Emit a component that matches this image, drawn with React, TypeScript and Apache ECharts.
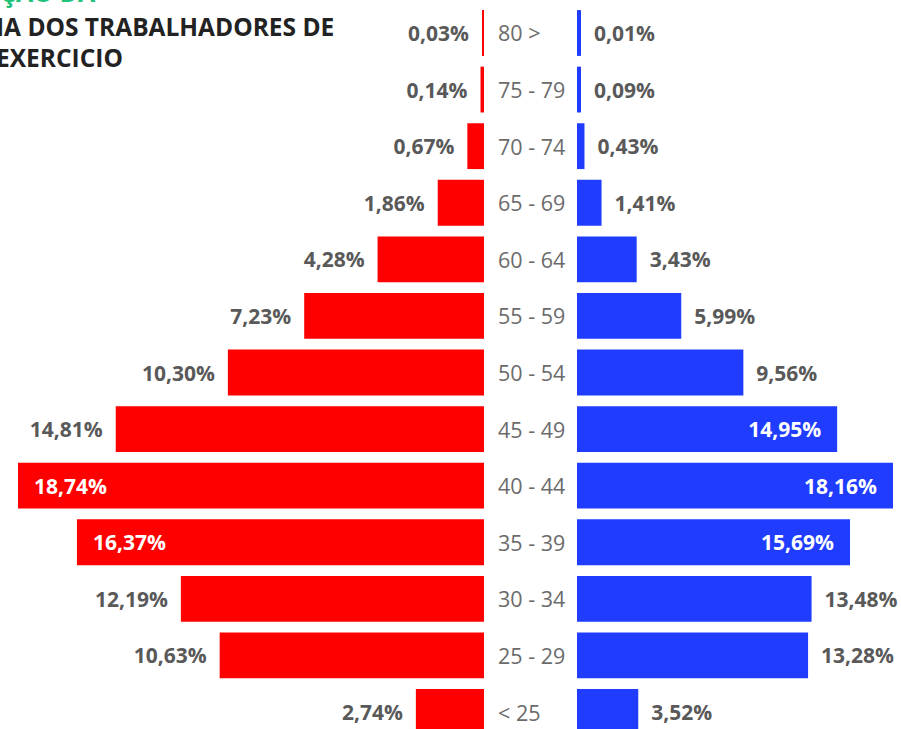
import React, { useEffect, useRef } from "react";
import * as echarts from "echarts";

const categories = ["80 >", "75 - 79", "70 - 74", "65 - 69", "60 - 64", "55 - 59", "50 - 54", "45 - 49", "40 - 44", "35 - 39", "30 - 34", "25 - 29", "< 25"];
const redValues = [0.03, 0.14, 0.67, 1.86, 4.28, 7.23, 10.30, 14.81, 18.74, 16.37, 12.19, 10.63, 2.74];
const blueValues = [0.01, 0.09, 0.43, 1.41, 3.43, 5.99, 9.56, 14.95, 18.16, 15.69, 13.48, 13.28, 3.52];
const redInside = [false, false, false, false, false, false, false, false, true, true, false, false, false];
const blueInside = [false, false, false, false, false, false, false, true, true, true, false, false, false];
const titleLines = ["ÇÃO DA", "IA DOS TRABALHADORES DE", "EXERCICIO"];

const RED = "#FF0000";
const BLUE = "#1F3CFF";
const FONT = "'Open Sans', 'DejaVu Sans', sans-serif";

const fmt = (v: number) => v.toFixed(2).replace(".", ",") + "%";

export default function App() {
  const ref = useRef<HTMLDivElement>(null);
  useEffect(() => {
    if (!ref.current) return;
    const chart = echarts.init(ref.current, undefined, { renderer: "svg" });
    const mkData = (vals: number[], inside: boolean[], side: "left" | "right") =>
      vals.map((v, i) => ({
        value: v,
        label: inside[i]
          ? {
              show: true,
              position: side === "left" ? "insideLeft" : "insideRight",
              distance: 16,
              color: "#ffffff",
            }
          : {
              show: true,
              position: side,
              distance: 13,
              color: "#595959",
            },
      }));
    const labelBase = {
      show: true,
      fontFamily: FONT,
      fontWeight: "bold" as const,
      fontSize: 21,
      formatter: (p: any) => fmt(p.value),
    };
    chart.setOption({
      animation: false,
      grid: [
        { left: 18, right: 417, top: 4.7, bottom: 0.7, containLabel: false },
        { left: 577, right: 8, top: 4.7, bottom: 0.7, containLabel: false },
      ],
      xAxis: [
        { type: "value", gridIndex: 0, inverse: true, min: 0, max: 18.74, show: false },
        { type: "value", gridIndex: 1, min: 0, max: 18.16, show: false },
      ],
      yAxis: [
        {
          type: "category",
          gridIndex: 0,
          data: categories,
          inverse: true,
          position: "right",
          axisLine: { show: false },
          axisTick: { show: false },
          axisLabel: {
            show: true,
            align: "left",
            margin: 14,
            color: "#6b6b6b",
            fontFamily: FONT,
            fontSize: 21.5,
          },
        },
        {
          type: "category",
          gridIndex: 1,
          data: categories,
          inverse: true,
          show: false,
        },
      ],
      series: [
        {
          type: "bar",
          xAxisIndex: 0,
          yAxisIndex: 0,
          data: mkData(redValues, redInside, "left"),
          barCategoryGap: "19%",
          barMinHeight: 2,
          itemStyle: { color: RED },
          label: labelBase,
        },
        {
          type: "bar",
          xAxisIndex: 1,
          yAxisIndex: 1,
          data: mkData(blueValues, blueInside, "right"),
          barCategoryGap: "19%",
          barMinHeight: 4,
          itemStyle: { color: BLUE },
          label: labelBase,
        },
      ],
      graphic: [
        {
          type: "text",
          x: 0,
          y: -8,
          style: {
            text: titleLines[0],
            fill: "#1fc27a",
            font: `bold 25px ${FONT}`,
            verticalAlign: "middle",
          },
        },
        {
          type: "text",
          x: -4,
          y: 26,
          style: {
            text: titleLines[1],
            fill: "#222222",
            font: `bold 24.5px ${FONT}`,
            verticalAlign: "middle",
          },
        },
        {
          type: "text",
          x: -4,
          y: 57,
          style: {
            text: titleLines[2],
            fill: "#222222",
            font: `bold 24.5px ${FONT}`,
            verticalAlign: "middle",
          },
        },
      ],
    });
    return () => chart.dispose();
  }, []);
  return (
    <div style={{ position: "absolute", left: 0, top: 0, width: 901, height: 729, overflow: "hidden" }}>
      <div ref={ref} style={{ width: 901, height: 741 }} />
    </div>
  );
}
